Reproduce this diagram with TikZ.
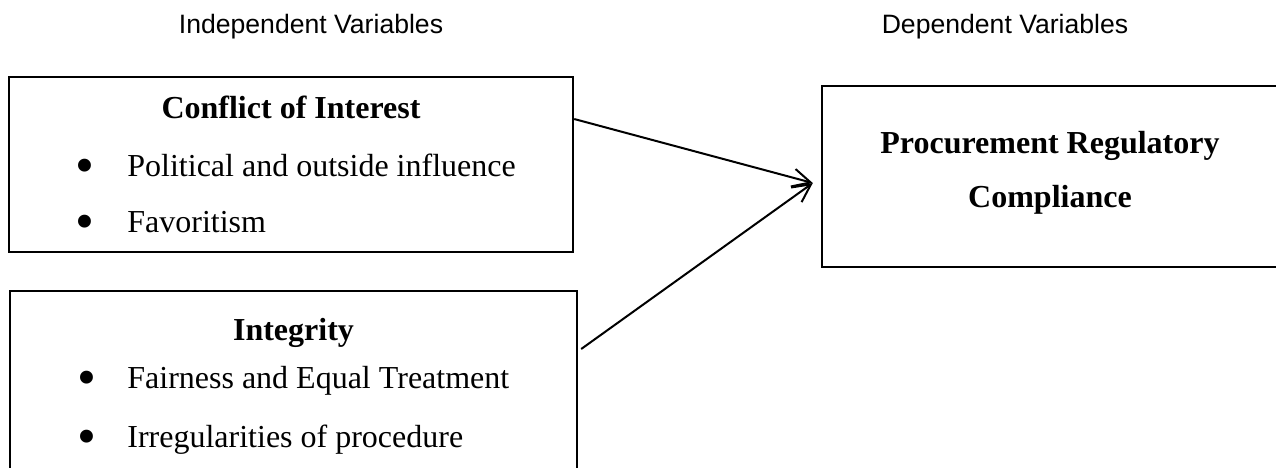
\documentclass[tikz,border=0pt]{standalone}
\usepackage{fontspec}
\setmainfont{Liberation Serif}
\setsansfont{Liberation Sans}
\usepackage{tikz}
\usetikzlibrary{arrows.meta,calc}

\newcommand{\itembullet}{\makebox[10pt][c]{\raisebox{-3.6pt}{\fontsize{27}{19}\selectfont\textbullet}}}

\begin{document}
\begin{tikzpicture}[
    x=0.5pt, y=-0.5pt,
    >={Straight Barb[length=9pt,width=9pt]},
    varbox/.style={
        rectangle,
        draw=black,
        line width=1.2pt,
        inner sep=0pt
    },
    boxtitle/.style={
        font=\fontsize{16}{19}\selectfont\bfseries,
        inner sep=0pt,
        text height=11pt,
        text depth=3.5pt,
        anchor=center
    },
    boxitem/.style={
        font=\fontsize{16}{19}\selectfont,
        inner sep=0pt,
        text height=11pt,
        text depth=3.5pt,
        anchor=west
    },
    head/.style={
        font=\sffamily\fontsize{13.3}{16}\selectfont,
        inner sep=0pt
    },
    link/.style={->, line width=1pt}
]
\useasboundingbox (0,0) rectangle (1276,467);
\clip (0,0) rectangle (1276,467);

% Column headings
\node[head] (indep) at (311,27)  {Independent Variables};
\node[head] (dep)   at (1005,27) {Dependent Variables};

% Independent variable boxes
\node[varbox, minimum width=282pt, minimum height=87.5pt] (coi) at (291,164.5) {};
\node[boxtitle] (coi title) at (291,110.5) {Conflict of Interest};
\node[boxitem] (coi a) at (75,168.5) {\itembullet\hspace{16pt}Political and outside influence};
\node[boxitem] (coi b) at (75,225) {\itembullet\hspace{16pt}Favoritism};

\node[varbox, minimum width=283.5pt, minimum height=91pt] (integ) at (293.5,382) {};
\node[boxtitle] (integ title) at (293.5,333) {Integrity};
\node[boxitem] (integ a) at (77,381) {\itembullet\hspace{15pt}Fairness and Equal Treatment};
\node[boxitem] (integ b) at (77,440) {\itembullet\hspace{15pt}Irregularities of procedure};

% Dependent variable box
\node[varbox, minimum width=228pt, minimum height=90.5pt] (prc) at (1050,176.5) {};
\node[boxtitle] (prc title) at (1050,145.5) {Procurement Regulatory};
\node[boxtitle] (prc title2) at (1050,199.5) {Compliance};

% Arrow ends
\coordinate (coi out)   at ($(coi.east)+(0,-45.5)$);
\coordinate (integ out) at ($(integ.east)+(3,-33)$);
\coordinate (tip)       at ($(prc.west)+(-8,6.5)$);

% Links
\draw[link] (coi out) -- (tip);
\draw[link] (integ out) -- (tip);

\end{tikzpicture}
\end{document}
